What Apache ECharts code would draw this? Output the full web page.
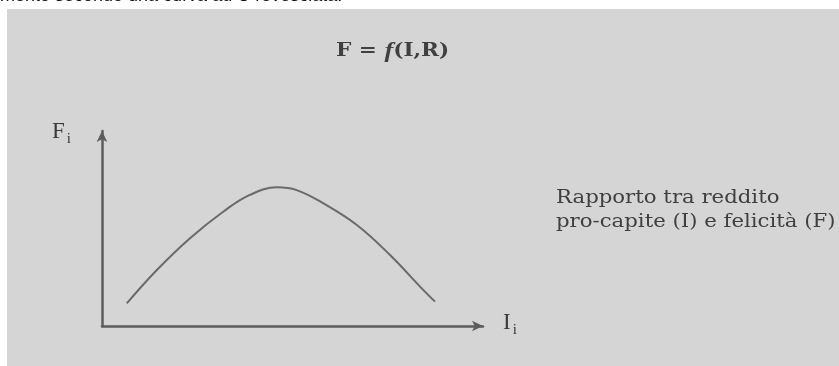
<!DOCTYPE html>
<html>
<head>
<meta charset="utf-8">
<script src="https://cdn.jsdelivr.net/npm/echarts@6/dist/echarts.min.js"></script>
<style>
  html, body { margin: 0; padding: 0; background: #fff; }
  #chart { width: 839px; height: 366px; }
</style>
</head>
<body>
<div id="chart"></div>
<script>
// curve: income (x) vs happiness (y), axis units 0..100
const incomeValues = [6.5, 14.4, 23.1, 31.8, 38.8, 45.9, 51.1, 58.1, 66.9, 75.6, 84.3, 87.4]
const happinessValues = [11.6, 28.7, 45.0, 58.6, 67.2, 71.1, 69.7, 62.9, 51.8, 36.4, 18.5, 12.5]

const titleText = 'F = {it|f}(I,R)'
const noteLines = ['Rapporto tra reddito', 'pro-capite (I) e felicità (F)']
const captionText = 'mento secondo una curva ad U rovesciata.'

const curveData = incomeValues.map((x, i) => [x, happinessValues[i]])

const chart = echarts.init(document.getElementById('chart'), null, { renderer: 'canvas' })

const axisColor = '#5c5c5c'
const serif = '"Liberation Serif", "DejaVu Serif", serif'
const slab = '"DejaVu Serif", serif'

const subLabel = (txt) => ({
  text: txt + '{s|i}',
  font: '23px ' + serif,
  fill: '#3a3a3a',
  rich: { s: { fontSize: 15, fontFamily: serif, fill: '#3a3a3a', padding: [15, 0, 0, 2] } }
})

chart.setOption({
  animation: false,
  backgroundColor: '#ffffff',
  graphic: [
    {
      type: 'rect',
      z: -10,
      shape: { x: 7, y: 9, width: 832, height: 357 },
      style: { fill: '#d5d5d5' }
    },
    {
      // caption of the page above the figure, cut by the crop
      type: 'text',
      x: 0,
      y: -12.5,
      style: {
        text: captionText,
        font: '18px "Liberation Sans", Arial, sans-serif',
        fill: '#111'
      }
    },
    {
      type: 'text',
      x: 336,
      y: 40,
      scaleX: 1.2,
      style: {
        text: titleText,
        font: 'bold 18px ' + slab,
        fill: '#404040',
        rich: {
          it: { fontFamily: serif, fontSize: 22, fontStyle: 'italic', fontWeight: 'bold', fill: '#404040' }
        }
      }
    },
    { type: 'text', left: 52, top: 120, style: subLabel('F') },
    { type: 'text', left: 503, top: 311, style: subLabel('I') },
    {
      type: 'text',
      x: 556,
      y: 186,
      scaleX: 1.18,
      style: {
        text: noteLines.join('\n'),
        font: '18px ' + slab,
        lineHeight: 24,
        fill: '#3f3f3f'
      }
    }
  ],
  grid: {
    left: 102,
    right: 356,
    top: 131,
    bottom: 40,
    containLabel: false
  },
  xAxis: {
    type: 'value',
    min: 0,
    max: 100,
    axisLine: {
      show: true,
      symbol: ['none', 'arrow'],
      symbolSize: [8, 11],
      lineStyle: { color: axisColor, width: 2.5 }
    },
    axisTick: { show: false },
    axisLabel: { show: false },
    splitLine: { show: false }
  },
  yAxis: {
    type: 'value',
    min: 0,
    max: 100,
    axisLine: {
      show: true,
      symbol: ['none', 'arrow'],
      symbolSize: [8, 11],
      lineStyle: { color: axisColor, width: 2.5 }
    },
    axisTick: { show: false },
    axisLabel: { show: false },
    splitLine: { show: false }
  },
  series: [{
    type: 'line',
    data: curveData,
    smooth: 0.4,
    showSymbol: false,
    lineStyle: { color: '#6a6a6a', width: 2 }
  }]
})
</script>
</body>
</html>
